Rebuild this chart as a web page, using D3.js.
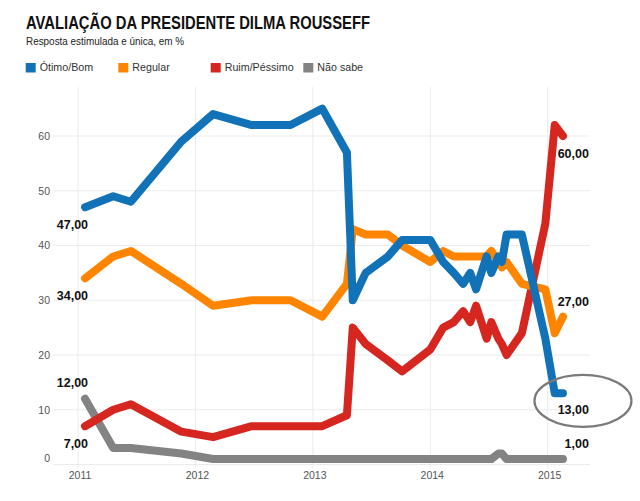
<!DOCTYPE html>
<html><head><meta charset="utf-8">
<script src="https://cdn.jsdelivr.net/npm/d3@7"></script>
<style>
html,body{margin:0;padding:0;background:#fff;}
svg{display:block;font-family:"Liberation Sans",Arial,Helvetica,sans-serif;}
</style></head>
<body>
<svg id="chart" width="640" height="501"></svg>
<script>
// ---- data ----
const surveyDates = [2011.06, 2011.30, 2011.45, 2011.88, 2012.15, 2012.48, 2012.81, 2013.08, 2013.29, 2013.34,
  2013.45, 2013.64, 2013.76, 2014.00, 2014.11, 2014.20, 2014.28, 2014.34, 2014.39, 2014.48,
  2014.52, 2014.58, 2014.61, 2014.65, 2014.78, 2014.98, 2015.06, 2015.13];
const otimoBom    = [47, 49, 48, 59, 64, 62, 62, 65, 57, 30, 35, 38, 41, 41, 37, 35, 33, 35, 32, 38, 35, 38, 37, 42, 42, 23, 13, 13];
const regular     = [34, 38, 39, 33, 29, 30, 30, 27, 33, 43, 42, 42, 40, 37, 39, 38, 38, 38, 38, 38, 39, 37, 36, 37, 33, 32, 24, 27];
const ruimPessimo = [7, 10, 11, 6, 5, 7, 7, 7, 9, 25, 22, 19, 17, 21, 25, 26, 28, 26, 29, 23, 26, 23, 22, 20, 24, 44, 62, 60];
const naoSabe     = [12, 3, 3, 2, 1, 1, 1, 1, 1, 1, 1, 1, 1, 1, 1, 1, 1, 1, 1, 1, 1, 2, 2, 1, 1, 1, 1, 1];
const seriesNames = ["Ótimo/Bom", "Regular", "Ruim/Péssimo", "Não sabe"];
const seriesColors = ["#1172b7", "#ff8500", "#d62620", "#838383"];
const yTickValues = [0, 10, 20, 30, 40, 50, 60];
const xTickValues = [2011, 2012, 2013, 2014, 2015];
const titleText = "AVALIAÇÃO DA PRESIDENTE DILMA ROUSSEFF";
const subtitleText = "Resposta estimulada e única, em %";

const seriesValues = [otimoBom, regular, ruimPessimo, naoSabe];
const series = seriesNames.map((name, i) => ({
  name, color: seriesColors[i],
  points: surveyDates.map((t, j) => ({t, v: seriesValues[i][j]}))
}));

const svg = d3.select("#chart");
const x = d3.scaleLinear().domain([2011, 2015]).range([78, 547.7]);
const y = d3.scaleLinear().domain([0, 60]).range([464.5, 136]);
const plotTop = 87, plotRight = 590, plotLeft = 53;

// title
svg.append("text").attr("x", 26).attr("y", 28.5).attr("font-size", 18).attr("font-weight", "bold")
  .attr("fill", "#111").attr("textLength", 344).attr("lengthAdjust", "spacingAndGlyphs").text(titleText);
svg.append("text").attr("x", 26).attr("y", 45).attr("font-size", 11)
  .attr("fill", "#222").attr("textLength", 158).attr("lengthAdjust", "spacingAndGlyphs").text(subtitleText);

// legend
const legendX = [25.7, 118.3, 210.7, 303.3];
const lg = svg.append("g").selectAll("g").data(series).join("g")
  .attr("transform", (d, i) => `translate(${legendX[i]},63)`);
lg.append("rect").attr("width", 10).attr("height", 9.5).attr("fill", d => d.color);
lg.append("text").attr("x", 14).attr("y", 8.3).attr("font-size", 10.7).attr("fill", "#333").text(d => d.name);

// grid
const grid = svg.append("g");
grid.selectAll("line.h").data(yTickValues).join("line")
  .attr("x1", plotLeft).attr("x2", plotRight).attr("y1", d => y(d)).attr("y2", d => y(d))
  .attr("stroke", "#ebebeb").attr("stroke-width", 1);
grid.selectAll("line.v").data(xTickValues).join("line")
  .attr("x1", d => x(d)).attr("x2", d => x(d)).attr("y1", plotTop).attr("y2", y(0) + 4)
  .attr("stroke", "#ebebeb").attr("stroke-width", 1);

// axes (labels only)
const yAxis = svg.append("g").attr("transform", `translate(${plotLeft},0)`)
  .call(d3.axisLeft(y).tickValues(yTickValues).tickSize(0).tickPadding(3));
yAxis.select(".domain").remove();
yAxis.selectAll("text").attr("font-size", 10.5).attr("fill", "#555")
  .attr("font-family", "Liberation Sans, Arial, sans-serif")
  .attr("dy", d => d === 0 ? "-0.32em" : "0.32em");
const xAxis = svg.append("g").attr("transform", `translate(0,${y(0)})`)
  .call(d3.axisBottom(x).tickValues(xTickValues).tickFormat(d3.format("d")).tickSize(0).tickPadding(7));
xAxis.select(".domain").remove();
xAxis.selectAll("text").attr("font-size", 10.5).attr("fill", "#555")
  .attr("font-family", "Liberation Sans, Arial, sans-serif").attr("dx", 1.5);

// lines (blue on top)
const line = d3.line().x(d => x(d.t)).y(d => y(d.v));
svg.append("g").selectAll("path").data(series.slice().reverse()).join("path")
  .attr("d", d => line(d.points)).attr("fill", "none").attr("stroke", d => d.color)
  .attr("stroke-width", 8).attr("stroke-linejoin", "round").attr("stroke-linecap", "round");

// value labels
const fmt = v => d3.format(".2f")(v).replace(".", ",");
const leftDy = [22, 22, 22, -12];
const rightDy = [21, -11, 22, -11];
const labels = svg.append("g").attr("font-size", 12.5).attr("font-weight", "bold").attr("fill", "#111");
series.forEach((s, i) => {
  const first = s.points[0], last = s.points[s.points.length - 1];
  labels.append("text").attr("text-anchor", "end")
    .attr("x", x(first.t) + 3).attr("y", y(first.v) + leftDy[i]).text(fmt(first.v));
  labels.append("text").attr("text-anchor", "end")
    .attr("x", x(last.t) + 26).attr("y", y(last.v) + rightDy[i]).text(fmt(last.v));
});

// annotation ellipse around the last Ótimo/Bom value
const lastBlue = series[0].points[series[0].points.length - 1];
svg.append("ellipse").attr("cx", x(lastBlue.t) + 20).attr("cy", y(lastBlue.v) + 7.5)
  .attr("rx", 48.5).attr("ry", 26).attr("fill", "none").attr("stroke", "#7a7a7a").attr("stroke-width", 2.2);
</script>
</body></html>
